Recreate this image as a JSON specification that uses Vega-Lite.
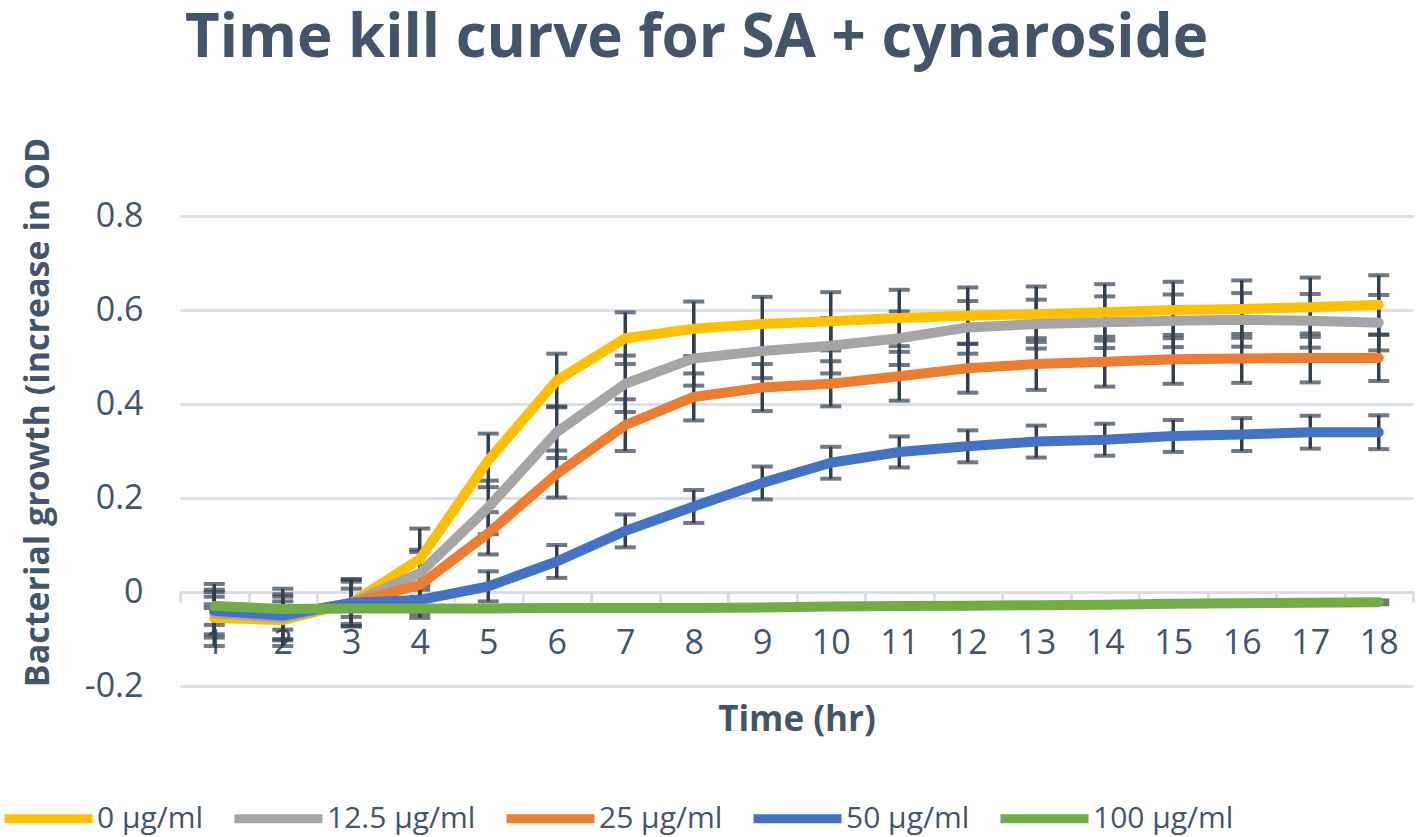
{
  "$schema": "https://vega.github.io/schema/vega-lite/v6.json",
  "width": 1233,
  "height": 470,
  "autosize": {"type": "none"},
  "padding": {"left": 180, "top": 216, "right": 6, "bottom": 151},
  "background": "white",
  "title": {
    "text": "Time kill curve for SA + cynaroside",
    "font": "Open Sans",
    "fontSize": 60,
    "fontWeight": "bold",
    "color": "#44546A",
    "anchor": "middle",
    "frame": "group",
    "dx": -100,
    "offset": 67
  },
  "datasets": {
    "growth": [
      {"t": 1, "conc": "0 µg/ml", "v": -0.055, "e": 0.06},
      {"t": 2, "conc": "0 µg/ml", "v": -0.06, "e": 0.055},
      {"t": 3, "conc": "0 µg/ml", "v": -0.023, "e": 0.05},
      {"t": 4, "conc": "0 µg/ml", "v": 0.07, "e": 0.065},
      {"t": 5, "conc": "0 µg/ml", "v": 0.28, "e": 0.057},
      {"t": 6, "conc": "0 µg/ml", "v": 0.45, "e": 0.057},
      {"t": 7, "conc": "0 µg/ml", "v": 0.54, "e": 0.055},
      {"t": 8, "conc": "0 µg/ml", "v": 0.56, "e": 0.058},
      {"t": 9, "conc": "0 µg/ml", "v": 0.57, "e": 0.058},
      {"t": 10, "conc": "0 µg/ml", "v": 0.576, "e": 0.062},
      {"t": 11, "conc": "0 µg/ml", "v": 0.583, "e": 0.06},
      {"t": 12, "conc": "0 µg/ml", "v": 0.588, "e": 0.06},
      {"t": 13, "conc": "0 µg/ml", "v": 0.591, "e": 0.059},
      {"t": 14, "conc": "0 µg/ml", "v": 0.595, "e": 0.06},
      {"t": 15, "conc": "0 µg/ml", "v": 0.6, "e": 0.06},
      {"t": 16, "conc": "0 µg/ml", "v": 0.602, "e": 0.061},
      {"t": 17, "conc": "0 µg/ml", "v": 0.606, "e": 0.063},
      {"t": 18, "conc": "0 µg/ml", "v": 0.611, "e": 0.063},
      {"t": 1, "conc": "12.5 µg/ml", "v": -0.045, "e": 0.045},
      {"t": 2, "conc": "12.5 µg/ml", "v": -0.055, "e": 0.045},
      {"t": 3, "conc": "12.5 µg/ml", "v": -0.023, "e": 0.045},
      {"t": 4, "conc": "12.5 µg/ml", "v": 0.04, "e": 0.05},
      {"t": 5, "conc": "12.5 µg/ml", "v": 0.18, "e": 0.057},
      {"t": 6, "conc": "12.5 µg/ml", "v": 0.34, "e": 0.055},
      {"t": 7, "conc": "12.5 µg/ml", "v": 0.443, "e": 0.06},
      {"t": 8, "conc": "12.5 µg/ml", "v": 0.497, "e": 0.058},
      {"t": 9, "conc": "12.5 µg/ml", "v": 0.513, "e": 0.058},
      {"t": 10, "conc": "12.5 µg/ml", "v": 0.524, "e": 0.059},
      {"t": 11, "conc": "12.5 µg/ml", "v": 0.54, "e": 0.057},
      {"t": 12, "conc": "12.5 µg/ml", "v": 0.563, "e": 0.056},
      {"t": 13, "conc": "12.5 µg/ml", "v": 0.57, "e": 0.052},
      {"t": 14, "conc": "12.5 µg/ml", "v": 0.574, "e": 0.055},
      {"t": 15, "conc": "12.5 µg/ml", "v": 0.577, "e": 0.056},
      {"t": 16, "conc": "12.5 µg/ml", "v": 0.579, "e": 0.057},
      {"t": 17, "conc": "12.5 µg/ml", "v": 0.577, "e": 0.057},
      {"t": 18, "conc": "12.5 µg/ml", "v": 0.573, "e": 0.059},
      {"t": 1, "conc": "25 µg/ml", "v": -0.04, "e": 0.057},
      {"t": 2, "conc": "25 µg/ml", "v": -0.048, "e": 0.055},
      {"t": 3, "conc": "25 µg/ml", "v": -0.023, "e": 0.05},
      {"t": 4, "conc": "25 µg/ml", "v": 0.015, "e": 0.07},
      {"t": 5, "conc": "25 µg/ml", "v": 0.125, "e": 0.045},
      {"t": 6, "conc": "25 µg/ml", "v": 0.251, "e": 0.05},
      {"t": 7, "conc": "25 µg/ml", "v": 0.355, "e": 0.055},
      {"t": 8, "conc": "25 µg/ml", "v": 0.415, "e": 0.05},
      {"t": 9, "conc": "25 µg/ml", "v": 0.435, "e": 0.05},
      {"t": 10, "conc": "25 µg/ml", "v": 0.443, "e": 0.048},
      {"t": 11, "conc": "25 µg/ml", "v": 0.459, "e": 0.052},
      {"t": 12, "conc": "25 µg/ml", "v": 0.476, "e": 0.052},
      {"t": 13, "conc": "25 µg/ml", "v": 0.485, "e": 0.055},
      {"t": 14, "conc": "25 µg/ml", "v": 0.49, "e": 0.053},
      {"t": 15, "conc": "25 µg/ml", "v": 0.495, "e": 0.052},
      {"t": 16, "conc": "25 µg/ml", "v": 0.497, "e": 0.052},
      {"t": 17, "conc": "25 µg/ml", "v": 0.498, "e": 0.052},
      {"t": 18, "conc": "25 µg/ml", "v": 0.498, "e": 0.049},
      {"t": 1, "conc": "50 µg/ml", "v": -0.04, "e": 0.03},
      {"t": 2, "conc": "50 µg/ml", "v": -0.05, "e": 0.03},
      {"t": 3, "conc": "50 µg/ml", "v": -0.023, "e": 0.03},
      {"t": 4, "conc": "50 µg/ml", "v": -0.017, "e": 0.03},
      {"t": 5, "conc": "50 µg/ml", "v": 0.012, "e": 0.032},
      {"t": 6, "conc": "50 µg/ml", "v": 0.065, "e": 0.035},
      {"t": 7, "conc": "50 µg/ml", "v": 0.13, "e": 0.035},
      {"t": 8, "conc": "50 µg/ml", "v": 0.182, "e": 0.035},
      {"t": 9, "conc": "50 µg/ml", "v": 0.232, "e": 0.035},
      {"t": 10, "conc": "50 µg/ml", "v": 0.275, "e": 0.034},
      {"t": 11, "conc": "50 µg/ml", "v": 0.298, "e": 0.033},
      {"t": 12, "conc": "50 µg/ml", "v": 0.31, "e": 0.034},
      {"t": 13, "conc": "50 µg/ml", "v": 0.32, "e": 0.034},
      {"t": 14, "conc": "50 µg/ml", "v": 0.324, "e": 0.034},
      {"t": 15, "conc": "50 µg/ml", "v": 0.332, "e": 0.034},
      {"t": 16, "conc": "50 µg/ml", "v": 0.335, "e": 0.035},
      {"t": 17, "conc": "50 µg/ml", "v": 0.34, "e": 0.035},
      {"t": 18, "conc": "50 µg/ml", "v": 0.34, "e": 0.036},
      {"t": 1, "conc": "100 µg/ml", "v": -0.03, "e": 0.004},
      {"t": 2, "conc": "100 µg/ml", "v": -0.036, "e": 0.004},
      {"t": 3, "conc": "100 µg/ml", "v": -0.035, "e": 0.004},
      {"t": 4, "conc": "100 µg/ml", "v": -0.035, "e": 0.004},
      {"t": 5, "conc": "100 µg/ml", "v": -0.035, "e": 0.004},
      {"t": 6, "conc": "100 µg/ml", "v": -0.034, "e": 0.004},
      {"t": 7, "conc": "100 µg/ml", "v": -0.034, "e": 0.004},
      {"t": 8, "conc": "100 µg/ml", "v": -0.034, "e": 0.004},
      {"t": 9, "conc": "100 µg/ml", "v": -0.033, "e": 0.004},
      {"t": 10, "conc": "100 µg/ml", "v": -0.031, "e": 0.004},
      {"t": 11, "conc": "100 µg/ml", "v": -0.03, "e": 0.004},
      {"t": 12, "conc": "100 µg/ml", "v": -0.029, "e": 0.004},
      {"t": 13, "conc": "100 µg/ml", "v": -0.028, "e": 0.004},
      {"t": 14, "conc": "100 µg/ml", "v": -0.027, "e": 0.004},
      {"t": 15, "conc": "100 µg/ml", "v": -0.025, "e": 0.004},
      {"t": 16, "conc": "100 µg/ml", "v": -0.024, "e": 0.004},
      {"t": 17, "conc": "100 µg/ml", "v": -0.023, "e": 0.004},
      {"t": 18, "conc": "100 µg/ml", "v": -0.022, "e": 0.004}
    ]
  },
  "data": {"name": "growth"},
  "encoding": {
    "x": {
      "field": "t",
      "type": "ordinal",
      "scale": {"type": "band", "paddingInner": 0, "paddingOuter": 0},
      "axis": {
        "title": "Time (hr)",
        "orient": "bottom",
        "offset": -94,
        "labelAngle": 0,
        "labelFont": "Open Sans",
        "labelFontSize": 34,
        "labelColor": "#44546A",
        "labelPadding": 24,
        "domainColor": "#D9DEE4",
        "domainWidth": 3,
        "tickColor": "#D9DEE4",
        "tickWidth": 3,
        "tickSize": 10,
        "tickBand": "extent",
        "grid": false,
        "titleFont": "Open Sans",
        "titleFontSize": 35,
        "titleFontWeight": "bold",
        "titleColor": "#44546A",
        "titleBaseline": "alphabetic",
        "titleY": 138
      }
    },
    "y": {
      "field": "v",
      "type": "quantitative",
      "scale": {"domain": [-0.2, 0.8], "nice": false, "zero": false},
      "axis": {
        "title": "Bacterial growth (increase in OD",
        "values": [-0.2, 0, 0.2, 0.4, 0.6, 0.8],
        "labelExpr": "datum.value == 0 ? '0' : toString(round(datum.value * 10) / 10)",
        "labelFont": "Open Sans",
        "labelFontSize": 34,
        "labelColor": "#44546A",
        "labelPadding": 37,
        "domain": false,
        "ticks": false,
        "grid": true,
        "gridColor": "#DCE1E7",
        "gridWidth": 3,
        "titleFont": "Open Sans",
        "titleFontSize": 34,
        "titleFontWeight": "bold",
        "titleColor": "#44546A",
        "titleAngle": 270,
        "titleAlign": "center",
        "titleBaseline": "middle",
        "titleX": -142,
        "titleY": 196
      }
    }
  },
  "layer": [
    {
      "mark": {
        "type": "errorbar",
        "color": "#333F50",
        "ticks": {"size": 21, "thickness": 4, "color": "#333F50"},
        "rule": {"strokeWidth": 3.5, "color": "#333F50"}
      },
      "encoding": {
        "yError": {"field": "e"},
        "detail": {"field": "conc"}
      }
    },
    {
      "mark": {"type": "line", "strokeWidth": 10, "strokeCap": "round", "strokeJoin": "round"},
      "encoding": {
        "color": {
          "field": "conc",
          "type": "nominal",
          "scale": {
            "domain": ["0 µg/ml", "12.5 µg/ml", "25 µg/ml", "50 µg/ml", "100 µg/ml"],
            "range": ["#FFC000", "#A5A5A5", "#ED7D31", "#4472C4", "#70AD47"]
          },
          "legend": {
            "title": null,
            "orient": "none",
            "direction": "horizontal",
            "legendX": -180,
            "legendY": 554,
            "symbolType": "stroke",
            "symbolSize": 7744,
            "symbolStrokeWidth": 9,
            "labelFont": "Open Sans",
            "labelFontSize": 30,
            "labelColor": "#44546A",
            "labelOffset": 0,
            "columnPadding": 12
          }
        }
      }
    }
  ],
  "config": {
    "view": {"stroke": null}
  }
}
